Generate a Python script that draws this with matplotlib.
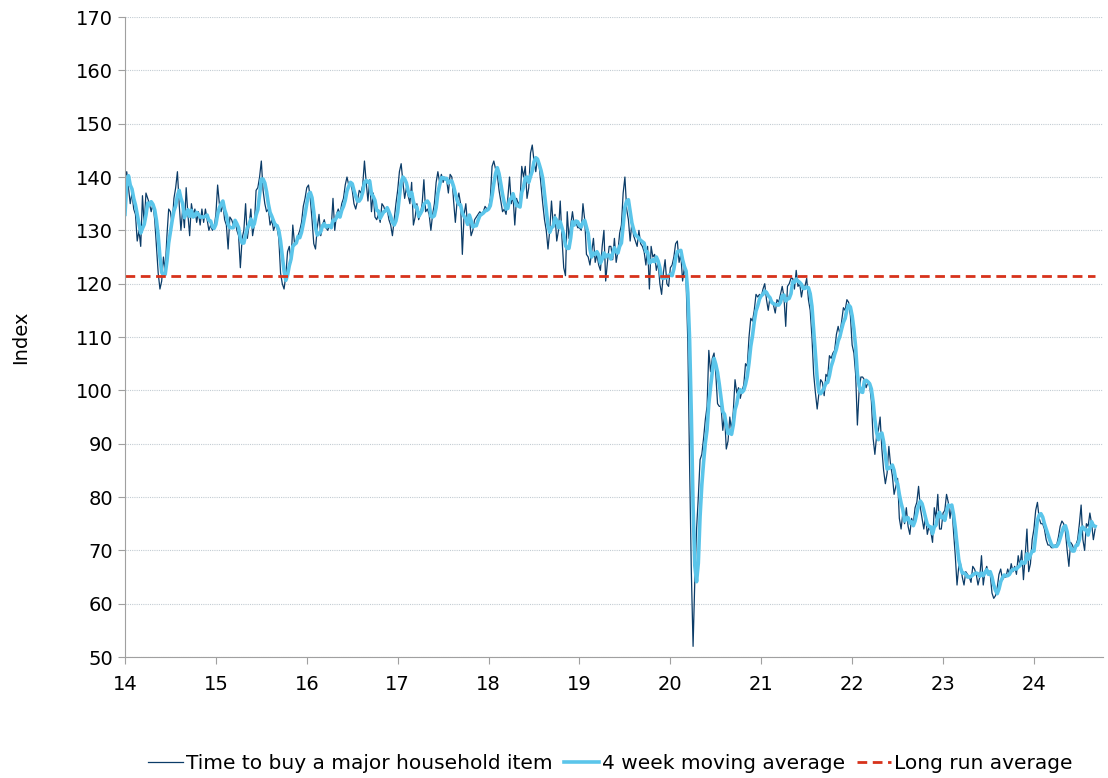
import numpy as np
import pandas as pd
import matplotlib
matplotlib.use('Agg')
import matplotlib.pyplot as plt

# weekly index values, one list per year
pre_2014 = [118, 132, 142]   # last weeks of 2013, only feed the moving average
y2014 = [140, 141, 138, 135, 137, 134, 133, 128, 130, 127, 136.5, 131, 137, 136, 135, 133.5,
         135, 132, 127, 122, 119, 120.5, 125, 122.5, 129, 134, 133.5, 131, 136, 138, 141, 135,
         130, 134, 130.5, 138, 133, 129, 135, 133, 134, 131.5, 133.5, 131, 134, 131.5, 134, 132,
         130, 131, 130, 130.5]
y2015 = [133, 138.5, 135, 133.5, 135, 132, 131, 126.5, 132.5, 132, 131, 132, 130, 129, 123, 128.5,
         130, 135, 128.5, 131, 134, 129, 131, 137.5, 138, 140, 143, 137.5, 135, 133.5, 134, 131,
         132, 130, 131, 130.5, 128.5, 122, 120, 119, 121.5, 126, 127, 124, 131, 127.5, 128, 129,
         130, 131.5, 134.5, 136]
y2016 = [138, 138.5, 136, 132, 127.5, 126.5, 130.5, 133, 129, 131, 132, 130.5, 130, 131, 130.5, 136,
         130, 133, 134, 133, 135, 136, 138.5, 140, 138.5, 139, 137.5, 135, 134, 135.5, 137.5, 137,
         138.5, 143, 139, 135.5, 139.5, 133.5, 137, 132.5, 132, 133, 131.5, 135, 134.5, 133.5, 134, 132,
         131, 129, 132, 135]
y2017 = [137.5, 141, 142.5, 139, 136, 138, 136.5, 135, 139, 131, 132.5, 135, 132, 133, 135, 139.5,
         133.5, 134, 133, 130, 133, 135, 139, 141, 139, 140.5, 139, 140, 139.5, 137, 140.5, 140,
         135.5, 131.5, 135.5, 137, 135, 125.5, 133, 135, 131, 132.5, 129, 130, 132, 132.5, 133, 133.5,
         133, 133.5, 134.5, 134]
y2018 = [134, 136, 142, 143, 141.5, 140.5, 137.5, 135.5, 133.5, 134, 133, 136, 140, 135, 136.5, 131,
         136, 135, 135.5, 142, 140, 142, 136, 138, 144.5, 146, 143, 141, 143.5, 142, 138.5, 135,
         132, 130, 126.5, 130, 135.5, 131, 133, 128, 130, 135.5, 128.5, 123, 121.5, 133.5, 128.5, 131,
         133.5, 131, 131.5, 130.5]
y2019 = [130.5, 130, 135, 132, 125.5, 125, 123.5, 126, 128.5, 124, 125.5, 123.5, 122.5, 127, 130, 120.5,
         124, 127, 127, 124.5, 128.5, 124, 126, 129.5, 131, 137, 140, 134, 132, 128, 131.5, 129,
         128, 127, 130, 127.5, 127, 126, 123.5, 127, 119, 127, 125, 125.5, 122.5, 124, 120, 118,
         122, 124.5, 120, 119.5]
y2020 = [123, 123.5, 125, 127.5, 128, 124, 125.5, 120.5, 123, 120.5, 109, 86, 66, 52, 64.5, 74,
         80, 87, 88, 91, 94.5, 97, 107.5, 103.5, 106, 107, 103, 97.5, 97, 97, 92.5, 95.5,
         89, 90.5, 95, 92.5, 96, 102, 99.5, 100.5, 98.5, 100, 101, 105, 104.5, 110, 113.5, 113,
         115, 118, 117.5, 118]
y2021 = [117.5, 119, 120, 117, 115, 117.5, 116.5, 116, 114.5, 117, 116.5, 118, 119.5, 117.5, 112, 119.5,
         120, 121, 121, 119, 122.5, 119.5, 120, 117.5, 119.5, 119.5, 121, 117, 115, 110, 103, 99.5,
         96.5, 99.5, 102, 101.5, 99, 103, 102.5, 106.5, 106, 107, 107.5, 110.5, 112, 110.5, 113, 115.5,
         115, 117, 116.5, 114]
y2022 = [108.5, 107, 103, 93.5, 100, 102.5, 102.5, 102, 100.5, 101.5, 101, 98, 91, 88, 91.5, 92.5,
         95, 89, 85, 82.5, 84.5, 89.5, 86, 84, 80.5, 82, 83.5, 76, 74, 77, 75, 78,
         74.5, 73, 76, 75, 78, 79, 82, 78, 76, 74, 76.5, 73, 74.5, 73.5, 71.5, 78,
         76, 80.5, 74, 74]
y2023 = [77, 77.5, 80.5, 79, 76, 78.5, 73.5, 69, 63.5, 67, 67.5, 65, 63.5, 66, 65.5, 65,
         64, 67, 66.5, 65.5, 63.5, 65, 69, 63.5, 66, 67, 65.5, 65.5, 62, 61, 61.5, 63,
         65.5, 66.5, 64.5, 65, 65, 66.5, 65.5, 67.5, 66, 67, 65.5, 69, 67, 70, 64.5, 69,
         74, 66, 67.5, 72]
y2024 = [74, 77.5, 79, 76, 75, 75, 74, 72, 71, 71, 70.5, 70.5, 71, 71, 72.5, 74.5,
         75.5, 75, 73.5, 70, 67, 71.5, 71, 70, 71, 72, 75, 78.5, 72, 70, 75, 74.5,
         77, 75, 72, 74]

years = [14, 15, 16, 17, 18, 19, 20, 21, 22, 23, 24]
series = [y2014, y2015, y2016, y2017, y2018, y2019, y2020, y2021, y2022, y2023, y2024]
long_run_avg = 121.5

x = np.concatenate([yr + np.arange(len(v)) / 52.0 for yr, v in zip(years, series)])
vals = np.concatenate(series)

full = pd.Series(pre_2014 + list(vals))
ma4 = full.rolling(4).mean().to_numpy()[len(pre_2014):]

fig = plt.figure(figsize=(11.08, 7.78), dpi=100)
ax = fig.add_axes([0.1128, 0.1555, 0.8827, 0.8226])

ax.grid(axis='y', color='#c3ccd3', linestyle=(0, (1, 1)), linewidth=0.8)
ax.set_axisbelow(True)

l1, = ax.plot(x, vals, color='#0b3c68', linewidth=0.9, label='Time to buy a major household item')
l2, = ax.plot(x, ma4, color='#5bc5ea', linewidth=2.6, label='4 week moving average')
l3, = ax.plot([x[0], x[-1]], [long_run_avg, long_run_avg], color='#d7321b', linewidth=2,
              linestyle=(0, (3.5, 2)), label='Long run average')

ax.set_xlim(14, 24.76)
ax.set_ylim(50, 170)
ax.set_xticks(years)
ax.set_xticklabels([str(y) for y in years])
ax.set_yticks(np.arange(50, 171, 10))

for s in ['top', 'right']:
    ax.spines[s].set_visible(False)
for s in ['left', 'bottom']:
    ax.spines[s].set_color('#a0a0a0')
ax.tick_params(axis='both', direction='out', length=5, color='#a0a0a0', labelsize=14,
               labelcolor='black')
ax.tick_params(axis='x', pad=8)
ax.set_ylabel('Index', fontsize=14)
ax.yaxis.set_label_coords(-0.097, 0.5)

fig.legend(handles=[l1, l2, l3], loc='center', bbox_to_anchor=(0.551, 0.019), ncol=3,
           frameon=False, fontsize=14.5, handlelength=1.7, handletextpad=0.15,
           columnspacing=0.6)

fig.savefig('out.png', dpi=100)
